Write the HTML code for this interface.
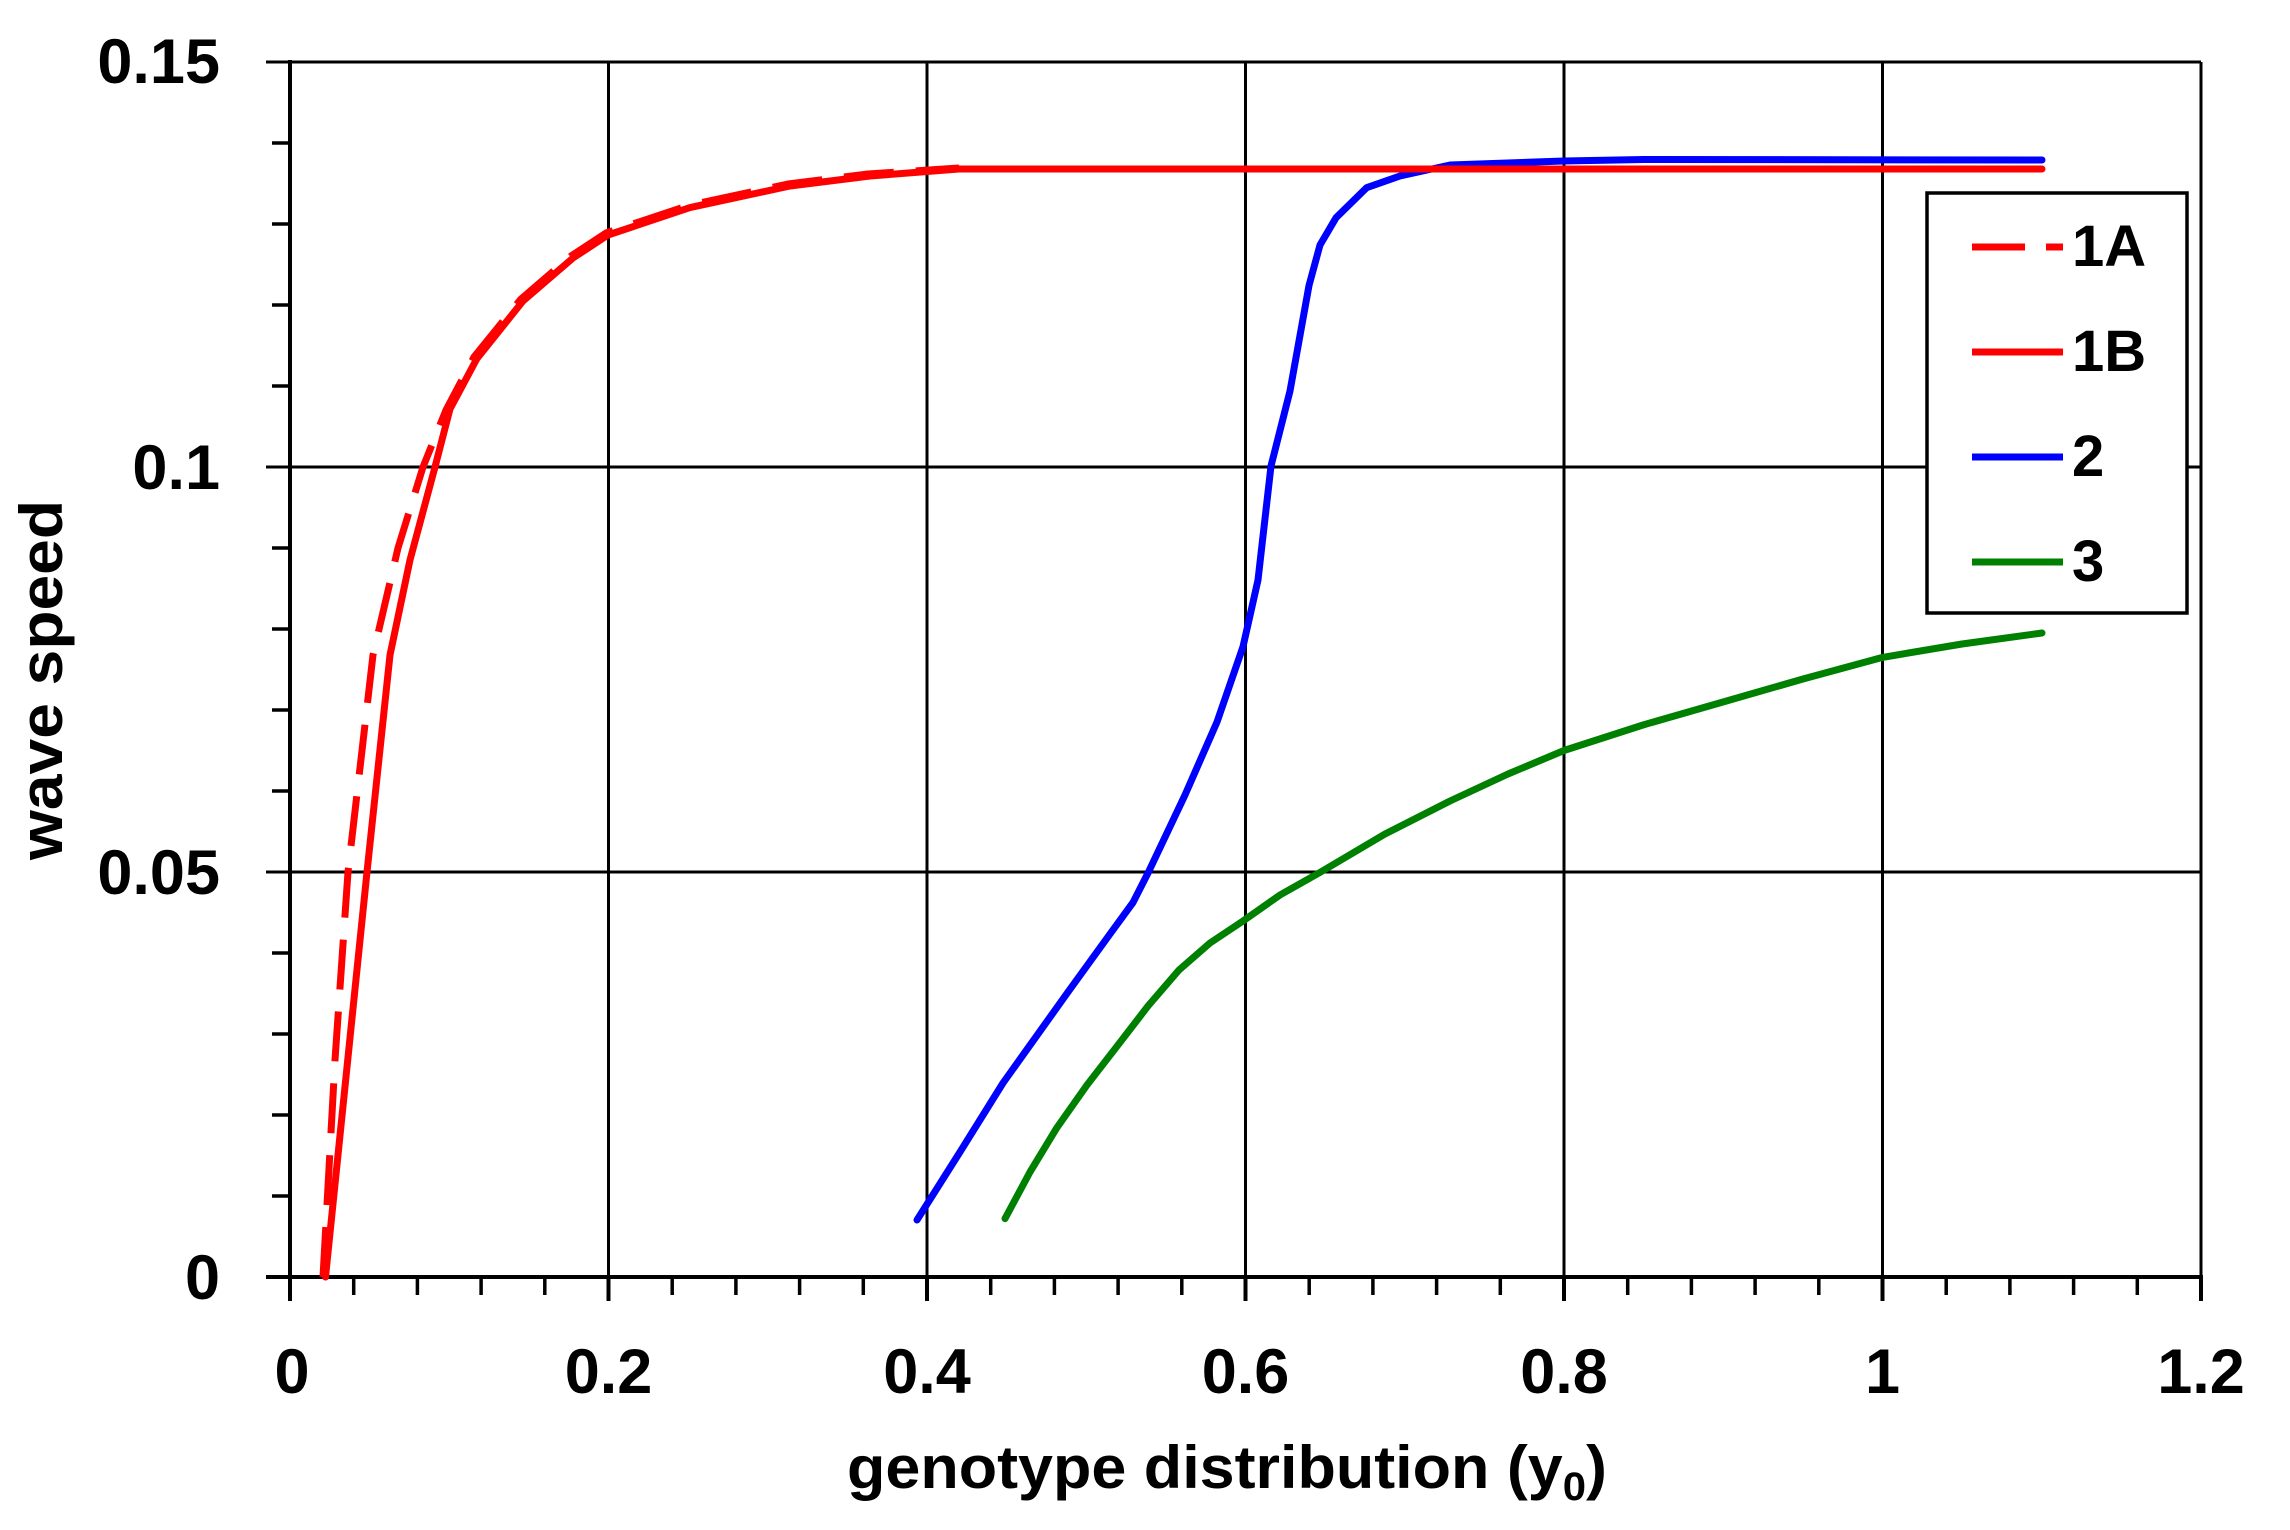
<!DOCTYPE html>
<html><head><meta charset="utf-8"><style>html,body{margin:0;padding:0;background:#fff}svg{display:block}</style></head>
<body>
<svg width="2290" height="1530" viewBox="0 0 2290 1530" xmlns="http://www.w3.org/2000/svg" font-family="Liberation Sans, Arial, sans-serif" font-weight="bold">
<rect width="2290" height="1530" fill="#fff"/>
<g stroke="#000" stroke-width="3">
<line x1="608.5" y1="62" x2="608.5" y2="1277"/>
<line x1="927" y1="62" x2="927" y2="1277"/>
<line x1="1245.5" y1="62" x2="1245.5" y2="1277"/>
<line x1="1564" y1="62" x2="1564" y2="1277"/>
<line x1="1882.5" y1="62" x2="1882.5" y2="1277"/>
<line x1="266" y1="467" x2="2201" y2="467"/>
<line x1="266" y1="872" x2="2201" y2="872"/>
<line x1="266" y1="62" x2="2201" y2="62"/>
<line x1="2201" y1="62" x2="2201" y2="1277"/>
</g>
<g stroke="#000" stroke-width="4">
<line x1="290" y1="60" x2="290" y2="1301"/>
<line x1="266" y1="1277" x2="2203" y2="1277"/>
<line x1="608.5" y1="1277" x2="608.5" y2="1301"/>
<line x1="927" y1="1277" x2="927" y2="1301"/>
<line x1="1245.5" y1="1277" x2="1245.5" y2="1301"/>
<line x1="1564" y1="1277" x2="1564" y2="1301"/>
<line x1="1882.5" y1="1277" x2="1882.5" y2="1301"/>
<line x1="2201" y1="1277" x2="2201" y2="1301"/>
</g>
<g stroke="#000" stroke-width="3.5">
<line x1="272" y1="143" x2="290" y2="143"/><line x1="272" y1="224" x2="290" y2="224"/><line x1="272" y1="305" x2="290" y2="305"/><line x1="272" y1="386" x2="290" y2="386"/>
<line x1="272" y1="548" x2="290" y2="548"/><line x1="272" y1="629" x2="290" y2="629"/><line x1="272" y1="710" x2="290" y2="710"/><line x1="272" y1="791" x2="290" y2="791"/>
<line x1="272" y1="953" x2="290" y2="953"/><line x1="272" y1="1034" x2="290" y2="1034"/><line x1="272" y1="1115" x2="290" y2="1115"/><line x1="272" y1="1196" x2="290" y2="1196"/>
<line x1="353.7" y1="1277" x2="353.7" y2="1295"/><line x1="417.4" y1="1277" x2="417.4" y2="1295"/><line x1="481.1" y1="1277" x2="481.1" y2="1295"/><line x1="544.8" y1="1277" x2="544.8" y2="1295"/>
<line x1="672.2" y1="1277" x2="672.2" y2="1295"/><line x1="735.9" y1="1277" x2="735.9" y2="1295"/><line x1="799.6" y1="1277" x2="799.6" y2="1295"/><line x1="863.3" y1="1277" x2="863.3" y2="1295"/>
<line x1="990.7" y1="1277" x2="990.7" y2="1295"/><line x1="1054.4" y1="1277" x2="1054.4" y2="1295"/><line x1="1118.1" y1="1277" x2="1118.1" y2="1295"/><line x1="1181.8" y1="1277" x2="1181.8" y2="1295"/>
<line x1="1309.2" y1="1277" x2="1309.2" y2="1295"/><line x1="1372.9" y1="1277" x2="1372.9" y2="1295"/><line x1="1436.6" y1="1277" x2="1436.6" y2="1295"/><line x1="1500.3" y1="1277" x2="1500.3" y2="1295"/>
<line x1="1627.7" y1="1277" x2="1627.7" y2="1295"/><line x1="1691.4" y1="1277" x2="1691.4" y2="1295"/><line x1="1755.1" y1="1277" x2="1755.1" y2="1295"/><line x1="1818.8" y1="1277" x2="1818.8" y2="1295"/>
<line x1="1946.2" y1="1277" x2="1946.2" y2="1295"/><line x1="2009.9" y1="1277" x2="2009.9" y2="1295"/><line x1="2073.6" y1="1277" x2="2073.6" y2="1295"/><line x1="2137.3" y1="1277" x2="2137.3" y2="1295"/>
</g>
<g fill="none" stroke-width="7" stroke-linejoin="round" stroke-linecap="round">
<polyline stroke="#008000" points="1005,1218.6 1030,1172 1056.7,1128 1087,1085 1118,1045 1148,1006 1179,970 1210,943 1243,921 1280,895 1320.7,872 1385,834 1450,801 1508,774 1564,750.5 1643,725 1723,702 1803,679 1882.5,657.4 1962,644 2042,633"/>
<polyline stroke="#0000ff" points="917,1220 960,1152 1003,1083 1068,992 1110,934 1133,902.5 1148.5,872 1185,795 1217,722 1243,646.7 1258,580 1271,466 1290,391 1309,285.5 1320,245 1336,217.8 1366.6,187.7 1400,176 1450,165 1564,161 1643.6,159.5 2042,160"/>
<polyline stroke="#ff0000" points="325.5,1277 345,1086.6 367,872 390,655 410,560 435,467 450,409 476.7,359 523,301 573,258 608,235 690,207.6 790,186 870,176 959,169 2042,169"/>
<polyline stroke="#ff0000" stroke-dasharray="50 22" stroke-linecap="butt" points="323,1277 335,1060 348,872 373,655 398,548 423,467 446,410 474,357 521,299 571,256 606,233 688,205.6 788,184 868,174 959,168"/>
</g>
<g font-size="63" text-anchor="end" fill="#000">
<text x="220" y="83">0.15</text>
<text x="220" y="489">0.1</text>
<text x="220" y="894">0.05</text>
<text x="220" y="1299">0</text>
</g>
<g font-size="63" text-anchor="middle" fill="#000">
<text x="292" y="1393">0</text>
<text x="608.5" y="1393">0.2</text>
<text x="927" y="1393">0.4</text>
<text x="1245.5" y="1393">0.6</text>
<text x="1564" y="1393">0.8</text>
<text x="1882.5" y="1393">1</text>
<text x="2201" y="1393">1.2</text>
</g>
<text x="847" y="1488" font-size="60" textLength="760" lengthAdjust="spacingAndGlyphs">genotype distribution (y<tspan font-size="40" dy="12">0</tspan><tspan dy="-12">)</tspan></text>
<text transform="translate(62,860) rotate(-90)" font-size="60" textLength="360" lengthAdjust="spacingAndGlyphs">wave speed</text>
<rect x="1927" y="193" width="260" height="420" fill="#fff" stroke="#000" stroke-width="3.5"/>
<g stroke-width="7">
<line x1="1972" y1="247" x2="2025" y2="247" stroke="#ff0000"/>
<line x1="2046" y1="247" x2="2063" y2="247" stroke="#ff0000"/>
<line x1="1972" y1="352" x2="2063" y2="352" stroke="#ff0000"/>
<line x1="1972" y1="457" x2="2063" y2="457" stroke="#0000ff"/>
<line x1="1972" y1="562" x2="2063" y2="562" stroke="#008000"/>
</g>
<g font-size="58" fill="#000">
<text x="2072" y="266">1A</text>
<text x="2072" y="371">1B</text>
<text x="2072" y="476">2</text>
<text x="2072" y="581">3</text>
</g>
</svg>
</body></html>
